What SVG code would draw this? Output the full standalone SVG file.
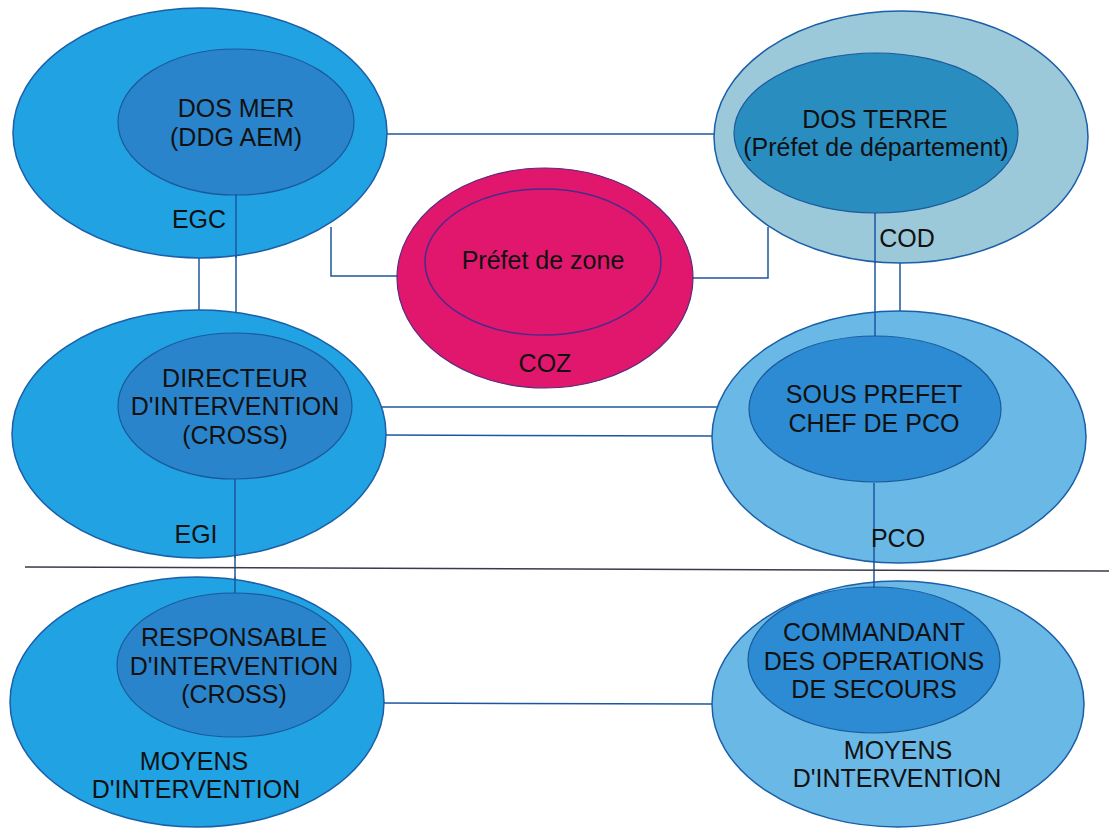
<svg xmlns="http://www.w3.org/2000/svg" width="1109" height="832" viewBox="0 0 1109 832">
<style>
  text { font-family: "Liberation Sans", Arial, sans-serif; font-size: 25px; fill: #111; text-anchor: middle; }
  .o { stroke: #1a5fa8; stroke-width: 1.5; }
  .i { stroke: #1a5a9c; stroke-width: 1.2; }
  .oL { fill: #21a2e2; }
  .iL { fill: #2a84cb; }
  .oT { fill: #9cc9da; }
  .iT { fill: #2a8dc0; }
  .oR { fill: #6ab8e5; }
  .iR { fill: #2c8bd3; }
  .conn { stroke: #1d56a0; stroke-width: 1.5; fill: none; }
</style>
<rect width="1109" height="832" fill="#ffffff"/>

<g id="connectors">
  <line class="conn" x1="387" y1="134" x2="715" y2="134"/>
  <polyline class="conn" points="331,227 331,276 398,276"/>
  <polyline class="conn" points="693,278 768,278 768,227"/>
  <line class="conn" x1="199" y1="256" x2="199" y2="311"/>
  <line class="conn" x1="236" y1="194" x2="236" y2="334"/>
  <line class="conn" x1="875" y1="213" x2="875" y2="337"/>
  <line class="conn" x1="900" y1="261" x2="900" y2="313"/>
  <line class="conn" x1="352" y1="407" x2="750" y2="407"/>
  <line class="conn" x1="384" y1="435" x2="714" y2="436"/>
  <line class="conn" x1="235" y1="479" x2="235" y2="594"/>
  <line class="conn" x1="874" y1="483" x2="874" y2="589"/>
  <line class="conn" x1="383" y1="703" x2="713" y2="704"/>
</g>

<g id="dos-mer">
  <ellipse class="o oL" cx="200" cy="133" rx="187" ry="125"/>
  <ellipse class="i iL" cx="236" cy="122" rx="118" ry="73"/>
  <line class="conn" x1="236" y1="194" x2="236" y2="258"/>
  <text x="236" y="117">DOS MER</text>
  <text x="236" y="146">(DDG AEM)</text>
  <text x="199" y="228">EGC</text>
</g>

<g id="dos-terre">
  <ellipse class="o oT" cx="901" cy="137" rx="187" ry="126"/>
  <ellipse class="i iT" cx="876" cy="133" rx="142" ry="80"/>
  <line class="conn" x1="875" y1="213" x2="875" y2="263"/>
  <text x="875" y="128">DOS TERRE</text>
  <text x="876" y="156">(Préfet de département)</text>
  <text x="907" y="247">COD</text>
</g>

<g id="prefet-zone">
  <ellipse cx="545" cy="278" rx="148" ry="110" fill="#e0176d" stroke="#5a2a7e" stroke-width="1.2"/>
  <ellipse cx="543" cy="262" rx="118" ry="73" fill="none" stroke="#4a2a8c" stroke-width="1.5"/>
  <text x="543" y="269">Préfet de zone</text>
  <text x="545" y="372">COZ</text>
</g>

<g id="directeur">
  <ellipse class="o oL" cx="199" cy="434" rx="187" ry="124"/>
  <ellipse class="i iL" cx="235" cy="406" rx="117" ry="73"/>
  <line class="conn" x1="235" y1="479" x2="235" y2="558"/>
  <text x="235" y="387">DIRECTEUR</text>
  <text x="235" y="415">D'INTERVENTION</text>
  <text x="235" y="444">(CROSS)</text>
  <text x="196" y="543">EGI</text>
</g>

<g id="sous-prefet">
  <ellipse class="o oR" cx="899" cy="437" rx="187" ry="126"/>
  <ellipse class="i iR" cx="875" cy="409" rx="126" ry="73"/>
  <line class="conn" x1="875" y1="312" x2="875" y2="336"/>
  <line class="conn" x1="874" y1="483" x2="874" y2="563"/>
  <text x="874" y="403">SOUS PREFET</text>
  <text x="874" y="432">CHEF DE PCO</text>
  <text x="898" y="547">PCO</text>
</g>

<line id="separator" x1="25" y1="567" x2="1109" y2="571" stroke="#3a3a4a" stroke-width="1.5"/>

<g id="responsable">
  <ellipse class="o oL" cx="197" cy="702" rx="187" ry="125"/>
  <ellipse class="i iL" cx="234" cy="665" rx="117" ry="72"/>
  <line class="conn" x1="235" y1="577" x2="235" y2="593"/>
  <text x="234" y="646">RESPONSABLE</text>
  <text x="234" y="675">D'INTERVENTION</text>
  <text x="234" y="703">(CROSS)</text>
  <text x="194" y="770">MOYENS</text>
  <text x="196" y="798">D'INTERVENTION</text>
</g>

<g id="commandant">
  <ellipse class="o oR" cx="898" cy="704" rx="186" ry="123"/>
  <ellipse class="i iR" cx="874" cy="660" rx="126" ry="73"/>
  <line class="conn" x1="874" y1="581" x2="874" y2="588"/>
  <text x="874" y="641">COMMANDANT</text>
  <text x="874" y="670">DES OPERATIONS</text>
  <text x="874" y="698">DE SECOURS</text>
  <text x="898" y="759">MOYENS</text>
  <text x="897" y="787">D'INTERVENTION</text>
</g>
</svg>
